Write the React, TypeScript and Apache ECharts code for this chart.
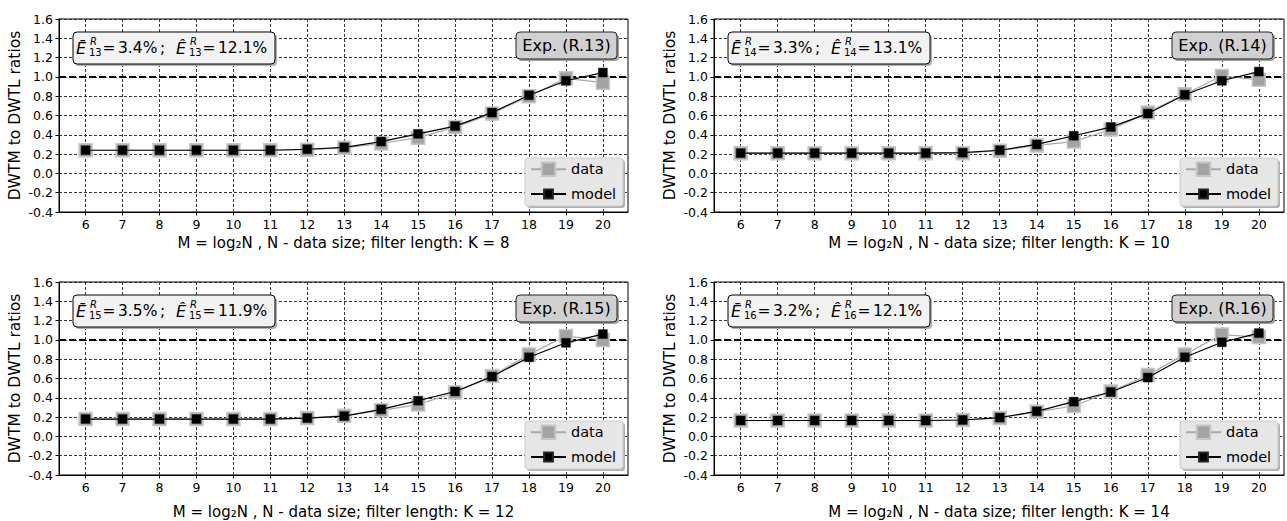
import React, { useEffect, useRef } from "react";
import * as echarts from "echarts";

// ---- data ----
const M = [6, 7, 8, 9, 10, 11, 12, 13, 14, 15, 16, 17, 18, 19, 20];
const filterK = [8, 10, 12, 14];
const expLabels = ["Exp. (R.13)", "Exp. (R.14)", "Exp. (R.15)", "Exp. (R.16)"];
const errSub = ["13", "14", "15", "16"];
const errMean = ["3.4%", "3.3%", "3.5%", "3.2%"];
const errMax = ["12.1%", "13.1%", "11.9%", "12.1%"];

const modelK8 = [0.24, 0.24, 0.24, 0.24, 0.24, 0.24, 0.25, 0.27, 0.33, 0.41, 0.49, 0.63, 0.81, 0.96, 1.045];
const dataK8 = [0.24, 0.24, 0.24, 0.24, 0.24, 0.24, 0.245, 0.265, 0.31, 0.37, 0.48, 0.62, 0.8, 0.985, 0.94];
const modelK10 = [0.21, 0.21, 0.21, 0.21, 0.21, 0.21, 0.215, 0.24, 0.3, 0.39, 0.48, 0.62, 0.815, 0.96, 1.055];
const dataK10 = [0.21, 0.21, 0.21, 0.21, 0.21, 0.21, 0.21, 0.235, 0.29, 0.33, 0.455, 0.63, 0.82, 1.01, 0.97];
const modelK12 = [0.18, 0.18, 0.18, 0.18, 0.18, 0.18, 0.19, 0.21, 0.28, 0.37, 0.465, 0.62, 0.82, 0.97, 1.06];
const dataK12 = [0.18, 0.18, 0.18, 0.18, 0.18, 0.18, 0.19, 0.215, 0.27, 0.33, 0.455, 0.625, 0.85, 1.04, 1.0];
const modelK14 = [0.165, 0.165, 0.165, 0.165, 0.165, 0.165, 0.17, 0.195, 0.26, 0.36, 0.46, 0.61, 0.82, 0.975, 1.07];
const dataK14 = [0.165, 0.165, 0.165, 0.165, 0.165, 0.165, 0.17, 0.19, 0.255, 0.315, 0.465, 0.635, 0.85, 1.055, 1.03];

const modelSets = [modelK8, modelK10, modelK12, modelK14];
const dataSets = [dataK8, dataK10, dataK12, dataK14];
const refLine = 1.0;
const yMin = -0.4;
const yMax = 1.6;
const yStep = 0.2;
const xMin = 5.28;
const xMax = 20.68;

const FONT = "DejaVu Sans";

const grids = [
  { left: 59, top: 19, width: 569, height: 193 },
  { left: 714, top: 19, width: 570, height: 193 },
  { left: 59, top: 282, width: 569, height: 193 },
  { left: 714, top: 282, width: 570, height: 193 },
];
const xNameGaps = [23, 23, 29, 29];

const GRID_LINE = { type: [3, 2], color: "#222", width: 0.9 };

function buildOption() {
  const xAxis: any[] = [];
  const yAxis: any[] = [];
  const series: any[] = [];
  const legend: any[] = [];
  const elements: any[] = [];

  grids.forEach((g, i) => {
    xAxis.push({
      type: "value",
      gridIndex: i,
      min: xMin,
      max: xMax,
      axisLine: { show: true, onZero: false, lineStyle: { color: "#000", width: 1 } },
      axisTick: { show: true, length: 3.5, customValues: M, lineStyle: { color: "#000" } },
      axisLabel: { customValues: M, fontSize: 12.5, color: "#000", margin: 6, fontFamily: FONT },
      splitLine: { show: false },
      name: `M = log\u2082N , N - data size; filter length: K = ${filterK[i]}`,
      nameLocation: "middle",
      nameGap: xNameGaps[i],
      nameTextStyle: { fontSize: 15, color: "#000", fontFamily: FONT },
    });
    yAxis.push({
      type: "value",
      gridIndex: i,
      min: yMin,
      max: yMax,
      interval: yStep,
      axisLine: { show: true, lineStyle: { color: "#000", width: 1 } },
      axisTick: { show: true, length: 3.5, lineStyle: { color: "#000" } },
      axisLabel: {
        fontSize: 12.5,
        color: "#000",
        margin: 6,
        fontFamily: FONT,
        formatter: (v: number) => (Math.abs(v) < 1e-9 ? "0.0" : v.toFixed(1)),
      },
      splitLine: { show: true, lineStyle: GRID_LINE },
      name: "DWTM to DWTL ratios",
      nameLocation: "middle",
      nameGap: 36,
      nameTextStyle: { fontSize: 15.5, color: "#000", fontFamily: FONT },
    });

    const model = modelSets[i];
    const data = dataSets[i];

    // carrier for vertical grid lines and the reference line
    series.push({
      type: "line",
      name: "grid" + i,
      xAxisIndex: i,
      yAxisIndex: i,
      data: M.map((m, j) => [m, model[j]]),
      showSymbol: false,
      symbol: "none",
      silent: true,
      lineStyle: { opacity: 0 },
      z: 1,
      markLine: {
        z: 1,
        silent: true,
        symbol: "none",
        animation: false,
        label: { show: false },
        lineStyle: GRID_LINE,
        data: [
          ...M.map((m) => ({ xAxis: m })),
          { yAxis: refLine, lineStyle: { type: [7, 3], color: "#000", width: 2 } },
        ],
      },
    });
    series.push({
      type: "line",
      name: "data",
      xAxisIndex: i,
      yAxisIndex: i,
      data: M.map((m, j) => [m, data[j]]),
      symbol: "rect",
      symbolSize: 13,
      lineStyle: { color: "#a9a9a9", width: 1.2 },
      itemStyle: { color: "#a3a3a3", borderColor: "#c6c6c6", borderWidth: 1.5 },
      z: 3,
    });
    series.push({
      type: "line",
      name: "model",
      xAxisIndex: i,
      yAxisIndex: i,
      data: M.map((m, j) => [m, model[j]]),
      symbol: "rect",
      symbolSize: 9,
      lineStyle: { color: "#000", width: 1.2 },
      itemStyle: { color: "#000", borderColor: "#222", borderWidth: 0.5 },
      z: 4,
    });

    const gl = g.left;
    const gt = g.top;
    const gr = g.left + g.width;

    // legend background
    const lx = gl + 466;
    const ly = gt + 139;
    elements.push({
      type: "rect",
      z: 10,
      shape: { x: lx + 2, y: ly + 2, width: 98, height: 48, r: 3 },
      style: { fill: "#b0b0b0" },
    });
    elements.push({
      type: "rect",
      z: 10,
      shape: { x: lx, y: ly, width: 98, height: 48, r: 3 },
      style: { fill: "#e6e6e6", stroke: "#cccccc", lineWidth: 1 },
    });
    const legendBase = {
      orient: "vertical",
      left: lx + 5,
      itemWidth: 35,
      itemGap: 0,
      padding: 0,
      selectedMode: false,
      z: 20,
      textStyle: { fontSize: 14.5, color: "#000", fontFamily: FONT },
    };
    legend.push({ ...legendBase, top: ly + 12 - 8.5, itemHeight: 17, data: ["data"] });
    legend.push({ ...legendBase, top: ly + 34 - 5.5, itemHeight: 11, data: ["model"] });

    // error annotation box
    const bx = gl + 14;
    const by = gt + 13;
    const cy = by + 16;
    elements.push({
      type: "rect",
      z: 10,
      shape: { x: bx + 2, y: by + 2, width: 202, height: 32, r: 4 },
      style: { fill: "#b0b0b0" },
    });
    elements.push({
      type: "rect",
      z: 10,
      shape: { x: bx, y: by, width: 202, height: 32, r: 4 },
      style: { fill: "#f2f2f2", stroke: "#000", lineWidth: 1 },
    });
    const txt = (text: string, x: number, y: number, size: number, italic = false) => ({
      type: "text",
      z: 11,
      x,
      y,
      style: {
        text,
        fontSize: size,
        fontFamily: FONT,
        fontStyle: italic ? "italic" : "normal",
        fill: "#000",
        align: "left",
        verticalAlign: "middle",
      },
    });
    elements.push(txt("\u0112", bx + 3, cy, 16, true));
    elements.push(txt("R", bx + 17, cy - 6.5, 10, true));
    elements.push(txt(errSub[i], bx + 16, cy + 4.5, 10));
    elements.push(txt("=", bx + 29.5, cy, 15.5));
    elements.push(txt(errMean[i], bx + 45, cy, 15.5));
    elements.push(txt(";", bx + 87, cy, 15.5));
    elements.push(txt("\u00CA", bx + 103, cy, 16, true));
    elements.push(txt("R", bx + 117, cy - 6.5, 10, true));
    elements.push(txt(errSub[i], bx + 116, cy + 4.5, 10));
    elements.push(txt("=", bx + 129.5, cy, 15.5));
    elements.push(txt(errMax[i], bx + 145, cy, 15.5));

    // Exp box
    const ex = gr - 112;
    const ey = gt + 13;
    elements.push({
      type: "rect",
      z: 10,
      shape: { x: ex + 2, y: ey + 2, width: 101, height: 27, r: 4 },
      style: { fill: "#a0a0a0" },
    });
    elements.push({
      type: "rect",
      z: 10,
      shape: { x: ex, y: ey, width: 101, height: 27, r: 4 },
      style: { fill: "#d0d0d0", stroke: "#222", lineWidth: 1 },
    });
    elements.push({
      type: "text",
      z: 11,
      x: ex + 50.5,
      y: ey + 13.5,
      style: {
        text: expLabels[i],
        fontSize: 16,
        fontFamily: FONT,
        fill: "#000",
        align: "center",
        verticalAlign: "middle",
      },
    });
  });

  return {
    animation: false,
    textStyle: { fontFamily: FONT },
    grid: grids.map((g) => ({
      ...g,
      show: true,
      borderColor: "#000",
      borderWidth: 1,
      backgroundColor: "transparent",
      containLabel: false,
    })),
    xAxis,
    yAxis,
    legend,
    series,
    graphic: { elements },
  };
}

export default function App() {
  const ref = useRef<HTMLDivElement>(null);
  useEffect(() => {
    if (!ref.current) return;
    const chart = echarts.init(ref.current, undefined, { renderer: "svg" });
    chart.setOption(buildOption() as any);
    return () => chart.dispose();
  }, []);
  return (
    <div
      ref={ref}
      style={{ position: "fixed", left: 0, top: 0, width: 1287, height: 521, background: "#fff" }}
    />
  );
}
